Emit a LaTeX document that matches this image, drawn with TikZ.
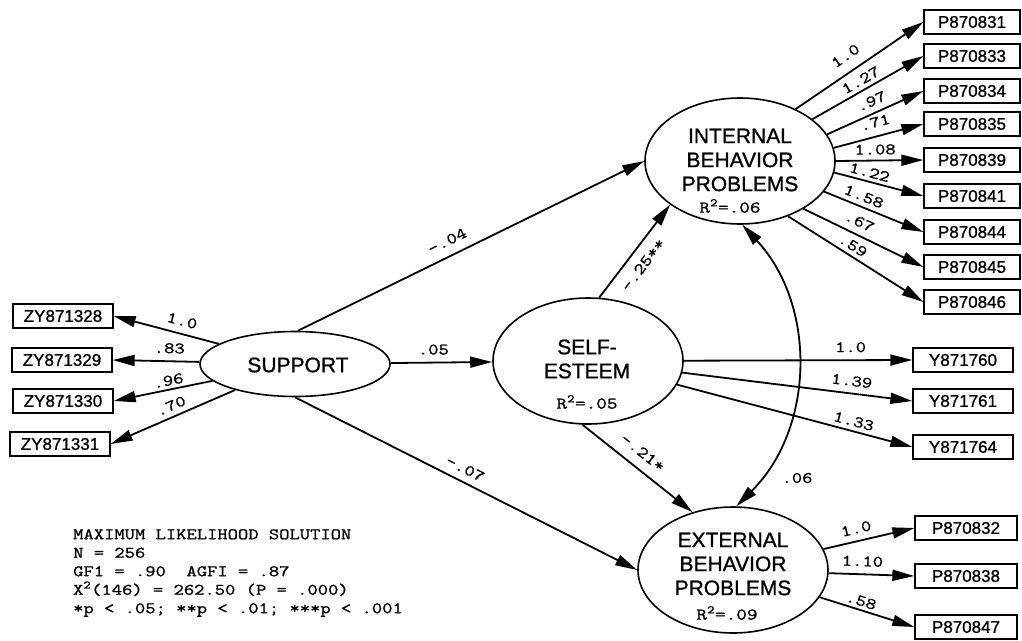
\documentclass[tikz,border=0pt]{standalone}
\usepackage{fontspec}
\setmainfont{Liberation Sans}[FakeBold=1]
\newfontfamily\cour[FakeStretch=1.25,FakeBold=1.2]{Latin Modern Mono}
\usetikzlibrary{shapes.geometric,arrows.meta}

\begin{document}
\begin{tikzpicture}[x=1pt,y=-1pt,
  >={Triangle[length=22pt,width=11pt]},
  conn/.style={line width=1.8pt},
  box/.style={draw,rectangle,line width=1.3pt,minimum height=24pt,inner sep=0pt,
    font=\fontsize{17}{20}\selectfont},
  pbox/.style={box,minimum width=96pt},
  ybox/.style={box,minimum width=100pt},
  zbox/.style={box,minimum width=100pt},
  latent/.style={draw,ellipse,line width=1.6pt,minimum width=190pt,minimum height=126pt,inner sep=0pt},
  ltext/.style={align=center,inner sep=0pt,font=\fontsize{21}{24}\selectfont},
  rsq/.style={inner sep=0pt,font=\cour\fontsize{16.5}{18}\selectfont},
  coef/.style={inner sep=6pt,font=\cour\fontsize{16}{18}\selectfont},
]
\useasboundingbox (0,0) rectangle (1022,640);

% latent variables
\node[latent,minimum height=65pt] (sup) at (295,364) {};
\node[ltext] (supT) at (298,365) {SUPPORT};
\node[latent] (self) at (588,361) {};
\node[ltext] (selfT) at (587,359) {SELF-\\ESTEEM};
\node[rsq] (selfR) at (587,402) {R\textsuperscript{2}=.05};
\node[latent] (int) at (740,161) {};
\node[ltext] (intT) at (740,160) {INTERNAL\\BEHAVIOR\\PROBLEMS};
\node[rsq] (intR) at (730,206) {R\textsuperscript{2}=.06};
\node[latent] (ext) at (733,570) {};
\node[ltext] (extT) at (733,564) {EXTERNAL\\BEHAVIOR\\PROBLEMS};
\node[rsq] (extR) at (727,613) {R\textsuperscript{2}=.09};

% indicators of support
\node[zbox] (z1) at (63,316) {ZY871328};
\node[zbox] (z2) at (62,360) {ZY871329};
\node[zbox] (z3) at (63,401) {ZY871330};
\node[zbox] (z4) at (60,444) {ZY871331};

% indicators of internal behavior problems
\node[pbox] (p1) at (972,22) {P870831};
\node[pbox] (p2) at (972,56) {P870833};
\node[pbox] (p3) at (972,91) {P870834};
\node[pbox] (p4) at (972,124) {P870835};
\node[pbox] (p5) at (972,160) {P870839};
\node[pbox] (p6) at (972,196) {P870841};
\node[pbox] (p7) at (972,232) {P870844};
\node[pbox] (p8) at (972,267) {P870845};
\node[pbox] (p9) at (972,302) {P870846};

% indicators of self-esteem
\node[ybox] (y1) at (963,360) {Y871760};
\node[ybox] (y2) at (963,401) {Y871761};
\node[ybox] (y3) at (963,447) {Y871764};

% indicators of external behavior problems
\node[box,minimum width=102pt] (e1) at (966,528) {P870832};
\node[box,minimum width=102pt] (e2) at (966,576) {P870838};
\node[box,minimum width=102pt] (e3) at (966,627) {P870847};

% measurement paths
\draw[conn,<-] (z1.east) -- (sup) node[coef,inner sep=7pt,pos=.62,sloped,above] (cz1) {1.0};
\draw[conn,<-] (z2.east) -- (sup) node[coef,inner sep=7pt,pos=.65,sloped,above] (cz2) {.83};
\draw[conn,<-] (z3.east) -- (sup) node[coef,inner sep=3pt,pos=.57,sloped,above] (cz3) {.96};
\draw[conn,<-] (z4.east) -- (sup) node[coef,inner sep=5pt,pos=.52,sloped,above] (cz4) {.70};

\draw[conn,->] (int.43) -- (p1.west) node[coef,inner sep=10pt,pos=.46,sloped,above] (cp1) {1.0};
\draw[conn,->] (int.30) -- (p2.west) node[coef,inner sep=4pt,pos=.48,sloped,above] (cp2) {1.27};
\draw[conn,->] (int.17) -- (p3.west) node[coef,inner sep=6pt,pos=.51,sloped,above] (cp3) {.97};
\draw[conn,->] (int.8) -- (p4.west) node[coef,inner sep=8pt,pos=.5,sloped,above] (cp4) {.71};
\draw[conn,->] (int.0) -- (p5.west) node[coef,inner sep=5pt,pos=.45,sloped,above] (cp5) {1.08};
\draw[conn,->] (int.353) -- (p6.west) node[coef,inner sep=3.5pt,pos=.37,sloped,above] (cp6) {1.22};
\draw[conn,->] (int.340) -- (p7.west) node[coef,inner sep=4.5pt,pos=.36,sloped,above] (cp7) {1.58};
\draw[conn,->] (int.323) -- (p8.west) node[coef,inner sep=7pt,pos=.42,sloped,above] (cp8) {.67};
\draw[conn,->] (int.311) -- (p9.west) node[coef,inner sep=4pt,pos=.44,sloped,above] (cp9) {.59};

\draw[conn,->] (self) -- (y1.west) node[coef,inner sep=7pt,pos=.73,sloped,above] (cy1) {1.0};
\draw[conn,->] (self) -- (y2.west) node[coef,inner sep=6.5pt,pos=.73,sloped,above] (cy2) {1.39};
\draw[conn,->] (self) -- (y3.west) node[coef,inner sep=4pt,pos=.74,sloped,above] (cy3) {1.33};

\draw[conn,->] (ext) -- (e1.west) node[coef,inner sep=6.5pt,pos=.39,sloped,above] (ce1) {1.0};
\draw[conn,->] (ext) -- (e2.west) node[coef,inner sep=7pt,pos=.39,sloped,above] (ce2) {1.10};
\draw[conn,->] (ext) -- (e3.west) node[coef,inner sep=3pt,pos=.41,sloped,above] (ce3) {.58};

% structural paths
\draw[conn,->] (sup.85) -- (int.west) node[coef,inner sep=9pt,pos=.45,sloped,above] (s1) {-.04};
\draw[conn,->] (sup) -- (self) node[coef,inner sep=7pt,pos=.42,above] (s2) {.05};
\draw[conn,->] (sup.south) -- (ext.west) node[coef,inner sep=7pt,pos=.48,sloped,above] (s3) {-.07};
\draw[conn,->] (self.80) -- (int.212) node[coef,inner sep=9pt,pos=.45,sloped,below] (s4) {-.25**};
\draw[conn,->] (self.265) -- (ext.125) node[coef,inner sep=10pt,pos=.46,sloped,above] (s5) {-.21*};

% residual covariance
\draw[conn,<->] (int.272) to[bend left=44] (ext.87);
\node[coef] (cov) at (797,478) {.06};

% fit statistics
\node[anchor=north west,align=left,inner sep=0pt,font=\cour\fontsize{16}{18.5}\selectfont] (stats) at (73,529)
  {MAXIMUM LIKELIHOOD SOLUTION\\
   N = 256\\
   GF1 = .90~~AGFI = .87\\
   X\textsuperscript{2}(146) = 262.50 (P = .000)\\
   *p < .05; **p < .01; ***p < .001};
\end{tikzpicture}
\end{document}
